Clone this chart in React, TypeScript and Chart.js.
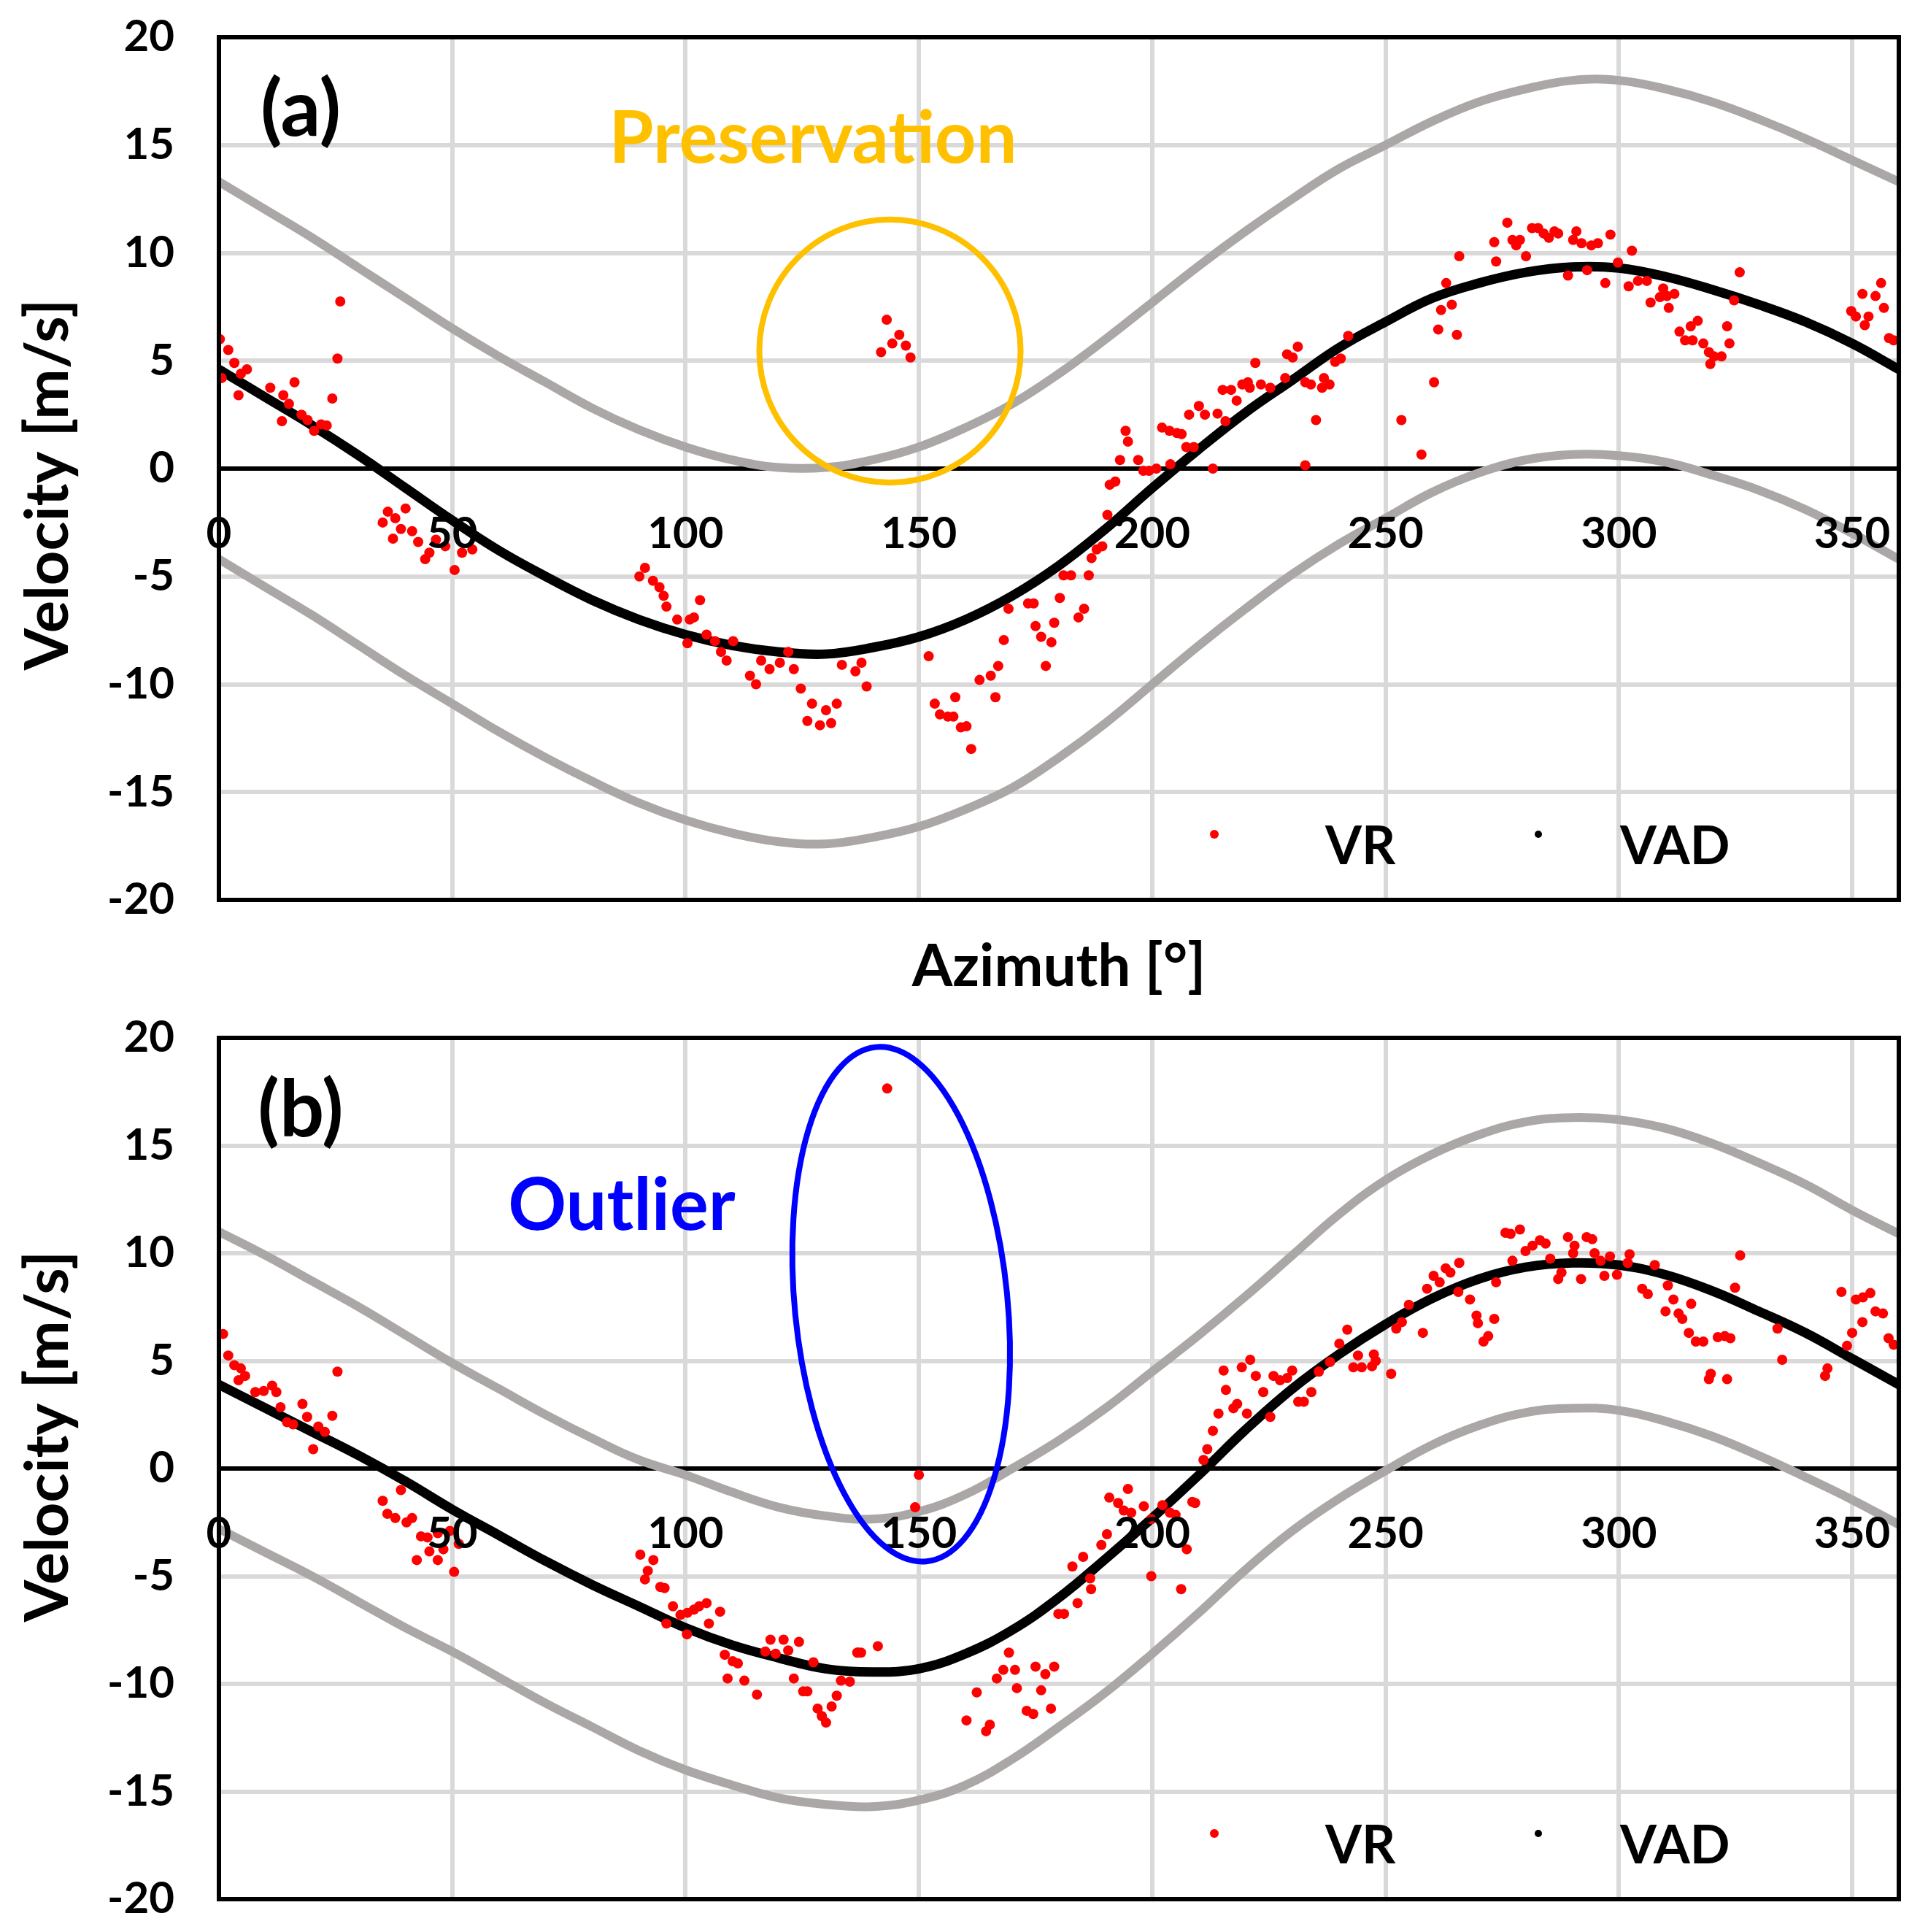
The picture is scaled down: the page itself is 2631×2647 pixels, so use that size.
import { useEffect, useRef } from "react"
import { Chart, registerables, type ChartConfiguration, type Plugin } from "chart.js"

Chart.register(...registerables)

const FONT = "Lato, 'Open Sans', sans-serif"
const RED = "#FF0000"
const GRAY = "#ABA7A7"
const GRID = "#D9D9D9"

// azimuth samples for the fitted curves
const AZIMUTH = [
  0, 10, 20, 30, 40, 50, 60, 70, 80, 90, 100, 110, 120, 130, 140, 150, 160, 170, 180,
  190, 200, 210, 220, 230, 240, 250, 260, 270, 280, 290, 300, 310, 320, 330, 340, 350, 360,
]

const X_TICKS = [0, 50, 100, 150, 200, 250, 300, 350]
const Y_TICKS = [-20, -15, -10, -5, 0, 5, 10, 15, 20]

// ---- panel (a) ----
const VAD_A = [
  4.6, 3.3, 2.0, 0.6, -0.9, -2.4, -3.8, -5.0, -6.1, -7.0, -7.7, -8.2, -8.5, -8.6, -8.3, -7.8, -7.0, -5.9, -4.5,
  -2.8, -0.9, 0.9, 2.6, 4.1, 5.6, 6.8, 7.9, 8.6, 9.1, 9.35, 9.3, 8.9, 8.3, 7.6, 6.8, 5.8, 4.6,
]
const UPPER_A = [
  13.3, 12.0, 10.7, 9.3, 7.9, 6.5, 5.2, 4.0, 2.8, 1.8, 1.0, 0.4, 0.05, 0.05, 0.4, 1.0, 1.9, 3.0, 4.4,
  6.0, 7.7, 9.4, 11.0, 12.5, 13.9, 15.0, 16.1, 17.0, 17.6, 18.0, 18.0, 17.6, 17.0, 16.2, 15.3, 14.3, 13.3,
]
const LOWER_A = [
  -4.2, -5.5, -6.8, -8.2, -9.6, -10.9, -12.2, -13.4, -14.5, -15.5, -16.3, -16.9, -17.3, -17.4, -17.1, -16.6, -15.8, -14.8, -13.4,
  -11.8, -10.0, -8.2, -6.5, -4.9, -3.5, -2.3, -1.1, -0.2, 0.4, 0.65, 0.6, 0.3, -0.3, -1.0, -1.9, -3.0, -4.2,
]
const VR_A: [number, number][] = [
  [0.2, 6.0], [2.0, 5.5], [3.3, 4.9], [6.0, 4.6], [4.7, 4.4], [0.6, 4.2], [4.2, 3.4], [11.0, 3.75], [16.2, 4.0],
  [13.8, 3.4], [15.0, 3.0], [13.5, 2.2], [17.7, 2.5], [19.0, 2.25], [20.4, 1.75], [21.9, 2.05], [23.1, 2.0],
  [24.3, 3.25], [25.4, 5.1], [26.0, 7.75],
  [36.2, -2.0], [40.0, -1.85], [35.1, -2.5], [37.8, -2.3], [39.0, -2.8], [41.4, -2.9], [37.3, -3.25], [42.7, -3.4],
  [45.1, -3.9], [44.2, -4.2], [52.1, -3.9], [54.3, -3.75], [50.5, -4.7], [46.5, -3.3], [48.5, -3.6],
  [91.3, -4.6], [90.1, -5.0], [93.0, -5.2], [94.4, -5.5], [95.3, -5.9], [95.9, -6.4], [103.1, -6.1], [101.8, -6.9],
  [98.2, -7.0], [100.9, -7.0], [100.4, -8.1], [104.5, -7.7], [106.3, -8.0], [110.2, -8.0], [107.6, -8.5], [108.8, -8.9],
  [113.8, -9.6], [115.1, -10.0], [116.2, -8.9], [118.0, -9.3], [120.2, -9.0], [123.2, -9.3], [122.0, -8.5],
  [124.7, -10.2], [127.1, -10.9], [130.1, -11.2], [132.4, -10.9], [126.1, -11.7], [128.8, -11.9], [131.2, -11.8],
  [133.5, -9.1], [136.4, -9.4], [137.7, -9.0], [138.8, -10.1],
  [143.1, 6.9], [145.8, 6.2], [144.3, 5.8], [147.2, 5.7], [141.9, 5.4], [148.2, 5.15],
  [152.1, -8.7], [153.4, -10.9], [154.5, -11.4], [156.2, -11.5], [157.4, -11.5], [157.8, -10.6], [159.0, -12.0],
  [160.2, -11.95], [161.2, -13.0], [163.0, -9.8], [165.4, -9.6], [167.0, -9.15], [166.4, -10.6], [168.2, -7.95],
  [169.2, -6.5], [173.4, -6.25], [174.6, -6.25], [175.0, -7.3], [176.2, -7.8], [178.4, -8.05], [177.2, -9.15],
  [179.0, -7.15], [180.2, -6.0], [181.0, -4.95], [182.6, -4.95], [186.4, -4.95], [185.4, -6.5], [184.2, -6.9],
  [187.0, -4.15], [188.1, -3.75], [189.3, -3.6], [190.4, -2.15],
  [190.9, -0.75], [192.1, -0.6], [193.1, 0.4], [194.3, 1.75], [194.8, 1.25], [197.0, 0.4], [198.1, -0.1],
  [199.3, -0.1], [200.9, 0.0], [202.1, 1.9], [203.7, 1.75], [205.3, 1.65], [206.3, 1.6], [203.9, 0.2], [207.3, 1.0],
  [208.9, 1.0], [207.9, 2.5], [210.0, 2.9], [211.3, 2.5], [213.0, 0.0], [214.0, 2.55], [215.7, 2.2], [215.1, 3.65],
  [216.9, 3.65], [218.1, 3.15], [219.3, 3.9], [220.5, 4.0], [220.9, 3.75], [222.1, 4.9], [223.3, 3.9], [225.3, 3.75],
  [228.5, 4.2], [228.9, 5.3], [230.1, 5.15], [231.2, 5.65], [232.8, 4.0], [234.0, 3.9], [232.8, 0.15], [235.1, 2.25],
  [236.4, 3.75], [236.8, 4.2], [238.0, 3.9], [239.2, 4.95], [240.4, 5.1], [242.0, 6.15], [253.4, 2.25], [257.7, 0.65],
  [260.4, 4.0], [261.3, 6.45], [265.3, 6.2], [261.9, 7.35], [264.2, 7.6], [263.0, 8.6], [265.8, 9.85], [273.7, 9.6],
  [273.3, 10.5], [276.1, 11.4], [277.2, 10.6], [278.0, 10.35], [278.8, 10.6], [280.1, 9.85], [281.4, 11.15],
  [282.7, 11.15], [283.9, 10.9], [285.0, 10.7], [286.2, 11.0], [287.0, 10.9], [289.1, 8.95], [290.9, 11.0],
  [290.2, 10.6], [292.0, 10.45], [294.1, 10.35], [295.5, 10.45], [293.2, 9.2], [298.2, 10.85], [299.8, 9.55],
  [297.1, 8.6], [302.8, 10.1], [302.1, 8.45], [304.1, 8.7], [306.0, 8.7], [309.5, 8.35], [310.3, 8.0], [311.9, 8.1],
  [308.8, 7.95], [306.8, 7.7], [310.7, 7.45], [316.9, 6.85], [315.4, 6.6], [313.0, 6.35], [314.2, 5.95], [315.8, 5.95],
  [318.1, 5.8], [319.3, 5.4], [320.4, 5.2], [322.0, 5.2], [319.6, 4.85], [323.2, 6.6], [323.7, 5.8], [325.9, 9.1],
  [324.7, 7.8], [349.8, 7.3], [350.8, 7.05], [352.2, 8.1], [353.5, 7.05], [352.7, 6.65], [355.0, 8.0], [356.2, 8.6],
  [356.8, 7.45], [357.9, 6.05], [358.9, 5.95],
]

// ---- panel (b) ----
const VAD_B = [
  3.9, 2.8, 1.7, 0.6, -0.6, -1.9, -3.1, -4.3, -5.4, -6.4, -7.4, -8.2, -8.8, -9.3, -9.45, -9.3, -8.6, -7.5, -6.0,
  -4.2, -2.3, -0.3, 1.8, 3.7, 5.3, 6.7, 7.9, 8.8, 9.35, 9.55, 9.45, 9.0, 8.25, 7.3, 6.3, 5.1, 3.9,
]
const UPPER_B = [
  11.0, 9.9, 8.7, 7.5, 6.2, 4.9, 3.7, 2.5, 1.4, 0.4, -0.3, -1.1, -1.8, -2.2, -2.35, -2.0, -1.2, 0.0, 1.3,
  2.8, 4.5, 6.2, 8.0, 9.9, 11.8, 13.4, 14.6, 15.5, 16.1, 16.3, 16.2, 15.8, 15.1, 14.2, 13.2, 12.0, 10.9,
]
const LOWER_B = [
  -2.8, -3.9, -5.0, -6.2, -7.4, -8.5, -9.7, -10.9, -12.0, -13.1, -14.0, -14.7, -15.3, -15.6, -15.7, -15.4, -14.7, -13.5, -12.0,
  -10.4, -8.6, -6.7, -4.7, -2.9, -1.4, -0.1, 1.1, 2.0, 2.6, 2.8, 2.7, 2.2, 1.5, 0.6, -0.4, -1.45, -2.6,
]
const VR_B: [number, number][] = [
  [0.9, 6.25], [2.0, 5.25], [3.3, 4.8], [4.7, 4.65], [5.6, 4.3], [4.2, 4.1], [7.8, 3.55], [9.6, 3.6], [11.4, 3.85],
  [12.3, 3.55], [13.2, 2.85], [14.6, 2.15], [15.9, 2.05], [17.9, 3.0], [18.9, 2.4], [21.3, 1.95], [22.7, 1.7],
  [20.2, 0.9], [24.3, 2.45], [25.4, 4.5],
  [39.0, -1.0], [35.1, -1.5], [36.1, -2.1], [37.8, -2.3], [40.2, -2.5], [41.4, -2.3], [43.3, -3.15], [44.7, -3.2],
  [46.9, -3.0], [49.5, -2.9], [51.4, -3.5], [45.1, -3.85], [48.1, -3.75], [42.4, -4.25], [46.9, -4.25], [50.4, -4.8],
  [90.3, -4.0], [93.1, -4.25], [91.9, -4.75], [91.3, -5.15], [94.6, -5.5], [95.5, -5.55], [97.3, -6.4], [98.9, -6.8],
  [100.4, -6.7], [101.8, -6.55], [102.9, -6.4], [104.5, -6.25], [107.4, -6.65], [105.0, -7.2], [95.9, -7.2],
  [100.3, -7.7], [108.4, -8.65], [110.1, -8.95], [111.2, -9.05], [109.0, -9.75], [112.6, -9.85], [115.3, -10.5],
  [118.2, -7.95], [121.0, -7.95], [124.3, -8.05], [117.1, -8.5], [119.3, -8.6], [122.0, -8.45], [127.4, -9.0],
  [123.2, -9.75], [125.2, -10.35], [126.1, -10.35], [132.4, -10.55], [131.3, -11.05], [128.3, -11.15], [129.2, -11.5],
  [130.1, -11.8], [133.3, -9.85], [135.2, -9.9], [137.0, -8.55], [137.6, -8.55], [141.2, -8.25], [136.8, -8.55],
  [143.2, 17.65], [150.0, -0.3], [149.2, -1.8],
  [162.4, -10.4], [160.2, -11.7], [164.4, -12.2], [165.2, -11.9], [166.7, -9.75], [168.1, -9.35], [170.6, -9.35],
  [169.3, -8.55], [171.0, -10.2], [173.1, -11.25], [174.5, -11.4], [175.0, -9.2], [177.1, -9.55], [179.0, -9.2],
  [176.2, -10.3], [178.3, -11.15], [179.9, -6.75], [181.1, -6.75], [184.0, -6.25], [186.9, -5.6], [186.7, -5.1],
  [182.9, -4.55], [185.2, -4.1], [189.1, -3.55], [190.3, -3.05], [190.8, -1.35], [192.7, -1.6], [194.8, -0.95],
  [193.9, -1.95], [195.5, -2.05], [198.2, -1.75], [199.8, -2.35], [202.2, -1.7], [203.8, -2.05], [205.0, -2.15],
  [199.8, -5.0], [206.2, -5.6], [207.4, -3.75], [208.6, -1.55], [209.2, -1.6],
  [211.0, 0.4], [211.8, 0.9], [213.0, 1.75], [214.2, 2.55], [215.8, 3.65], [215.3, 4.55], [217.4, 2.8], [218.2, 3.0],
  [219.2, 4.7], [221.0, 5.05], [220.3, 2.55], [222.2, 4.3], [223.8, 3.55], [226.0, 4.3], [227.4, 4.1], [228.9, 4.2],
  [230.0, 4.55], [225.3, 2.4], [231.3, 3.1], [232.5, 3.1], [234.1, 3.55], [235.7, 4.5], [238.1, 4.95], [240.1, 5.8],
  [241.8, 6.45], [244.1, 5.25], [243.1, 4.7], [244.9, 4.7], [247.9, 5.0], [247.1, 4.75], [247.5, 5.3],
  [251.2, 4.4], [252.3, 6.5], [253.5, 6.8], [255.0, 7.6], [258.0, 6.3], [258.9, 8.35], [260.3, 8.95], [261.6, 8.65],
  [262.9, 9.3], [263.9, 9.1], [265.8, 9.55], [265.6, 8.2], [268.1, 7.85], [269.5, 7.1], [269.8, 6.75], [273.3, 6.95],
  [272.0, 6.15], [271.0, 5.9], [273.7, 8.65], [277.2, 9.65], [275.7, 10.95], [276.8, 10.9], [278.8, 11.1],
  [280.0, 10.1], [281.5, 10.35], [283.1, 10.6], [284.3, 10.45], [285.3, 9.75], [287.0, 8.8], [287.7, 9.1],
  [289.1, 10.75], [290.5, 10.35], [290.2, 10.0], [291.9, 8.8], [293.1, 10.75], [294.3, 10.65], [294.8, 10.0],
  [296.1, 9.65], [296.9, 8.95], [298.1, 9.85], [299.6, 9.0], [302.3, 9.95], [301.9, 9.55], [307.7, 9.45],
  [305.0, 8.35], [306.2, 8.1], [310.5, 8.5], [311.7, 7.85], [310.0, 7.3], [312.8, 7.2], [313.6, 6.95], [315.5, 7.65],
  [315.0, 6.3], [316.5, 5.9], [318.1, 5.9], [321.2, 6.1], [322.7, 6.15], [323.9, 6.05], [319.7, 4.4], [319.3, 4.15],
  [323.2, 4.15], [326.0, 9.9], [324.9, 8.4], [334.0, 6.5], [335.0, 5.05], [344.2, 4.3], [344.7, 4.65], [347.7, 8.2],
  [348.9, 5.7], [350.0, 6.3], [352.2, 6.8], [350.8, 7.85], [352.3, 7.95], [353.9, 8.15], [355.0, 7.3], [356.6, 7.2],
  [357.8, 6.05], [358.9, 5.75],
]

type Ring = { x: number; y: number; rx: number; ry: number; rot: number; color: string }
type Note = { text: string; color: string; dx: number; dy: number }

type PanelDef = {
  tag: string
  vad: number[]
  upper: number[]
  lower: number[]
  vr: [number, number][]
  note: Note
  ring: Ring
  titleShift: number
  xTitle: boolean
  top: number
  height: number
  padBottom: number
}

// chart area: left 300, right 2602; (a) 51..1233, (b) 1422..2602 in page pixels
const CANVAS_W = 2662
const PAD_TOP = 110
const PAD_RIGHT = 60

const PANELS: PanelDef[] = [
  {
    tag: "(a)",
    vad: VAD_A,
    upper: UPPER_A,
    lower: LOWER_A,
    vr: VR_A,
    note: { text: "Preservation", color: "#FFC000", dx: 814, dy: 140 },
    ring: { x: 143.8, y: 5.45, rx: 28, ry: 6.1, rot: 0, color: "#FFC000" },
    titleShift: 22,
    xTitle: true,
    top: 51 - PAD_TOP,
    height: 1473,
    padBottom: 181,
  },
  {
    tag: "(b)",
    vad: VAD_B,
    upper: UPPER_B,
    lower: LOWER_B,
    vr: VR_B,
    note: { text: "Outlier", color: "#0000FF", dx: 552, dy: 231 },
    ring: { x: 146.2, y: 7.63, rx: 22.8, ry: 12.0, rot: -0.098, color: "#0000FF" },
    titleShift: -44,
    xTitle: false,
    top: 1422 - PAD_TOP,
    height: 1400,
    padBottom: 110,
  },
]

function decorations(p: PanelDef): Plugin<"scatter"> {
  return {
    id: "decorations",
    afterDraw(chart) {
      const { ctx, chartArea: a, scales } = chart
      const xs = scales.x
      const ys = scales.y
      ctx.save()

      // plot frame
      ctx.strokeStyle = "#000"
      ctx.lineWidth = 6
      ctx.strokeRect(a.left, a.top, a.right - a.left, a.bottom - a.top)

      // highlight ring
      const cx = xs.getPixelForValue(p.ring.x)
      const cy = ys.getPixelForValue(p.ring.y)
      const rx = Math.abs(xs.getPixelForValue(p.ring.x + p.ring.rx) - cx)
      const ry = Math.abs(ys.getPixelForValue(p.ring.y + p.ring.ry) - cy)
      ctx.beginPath()
      ctx.ellipse(cx, cy, rx, ry, p.ring.rot, 0, Math.PI * 2)
      ctx.strokeStyle = p.ring.color
      ctx.lineWidth = 8
      ctx.stroke()

      ctx.textBaseline = "middle"

      // panel tag and note
      ctx.fillStyle = "#000"
      ctx.textAlign = "center"
      ctx.font = `bold 108px ${FONT}`
      ctx.fillText(p.tag, a.left + 112, a.top + 100)

      ctx.fillStyle = p.note.color
      ctx.font = `bold 99px ${FONT}`
      ctx.fillText(p.note.text, a.left + p.note.dx, a.top + p.note.dy)

      // legend
      ctx.fillStyle = RED
      ctx.beginPath()
      ctx.arc(a.left + 1364, a.bottom - 90, 6, 0, Math.PI * 2)
      ctx.fill()
      ctx.fillStyle = "#000"
      ctx.beginPath()
      ctx.arc(a.left + 1808, a.bottom - 90, 5, 0, Math.PI * 2)
      ctx.fill()
      ctx.font = `bold 72px ${FONT}`
      ctx.textAlign = "left"
      ctx.fillText("VR", a.left + 1516, a.bottom - 72)
      ctx.fillText("VAD", a.left + 1920, a.bottom - 72)

      // axis titles
      ctx.textAlign = "center"
      ctx.font = `bold 80px ${FONT}`
      if (p.xTitle) {
        ctx.fillText("Azimuth [°]", (a.left + a.right) / 2, a.bottom + 92)
      }
      ctx.font = `bold 83px ${FONT}`
      ctx.translate(66, (a.top + a.bottom) / 2 + p.titleShift)
      ctx.rotate(-Math.PI / 2)
      ctx.fillText("Velocity [m/s]", 0, 0)

      ctx.restore()
    },
  }
}

function buildConfig(p: PanelDef): ChartConfiguration<"scatter"> {
  const curve = (vals: number[]) => AZIMUTH.map((az, i) => ({ x: az, y: vals[i] }))
  const tickFont = { family: FONT, size: 60, weight: "bold" as const }
  return {
    type: "scatter",
    data: {
      datasets: [
        {
          label: "VR",
          data: p.vr.map(([x, y]) => ({ x, y })),
          pointRadius: 7,
          pointBackgroundColor: RED,
          pointBorderWidth: 0,
          showLine: false,
        },
        {
          label: "VAD",
          data: curve(p.vad),
          showLine: true,
          borderColor: "#000",
          borderWidth: 13,
          pointRadius: 0,
          tension: 0.4,
        },
        {
          label: "upper",
          data: curve(p.upper),
          showLine: true,
          borderColor: GRAY,
          borderWidth: 12,
          pointRadius: 0,
          tension: 0.4,
        },
        {
          label: "lower",
          data: curve(p.lower),
          showLine: true,
          borderColor: GRAY,
          borderWidth: 12,
          pointRadius: 0,
          tension: 0.4,
        },
      ],
    },
    options: {
      responsive: false,
      animation: false,
      devicePixelRatio: 1,
      events: [],
      layout: { padding: { top: PAD_TOP, bottom: p.padBottom, left: 0, right: PAD_RIGHT } },
      plugins: { legend: { display: false }, tooltip: { enabled: false } },
      scales: {
        x: {
          type: "linear",
          min: 0,
          max: 360,
          position: { y: 0 },
          afterBuildTicks: (s) => {
            s.ticks = X_TICKS.map((v) => ({ value: v }))
          },
          grid: { color: GRID, lineWidth: 6, drawTicks: false },
          border: { display: true, color: "#000", width: 6 },
          ticks: { padding: 54, z: 1, color: "#000", font: tickFont, maxRotation: 0, autoSkip: false },
        },
        y: {
          type: "linear",
          min: -20,
          max: 20,
          position: "left",
          afterBuildTicks: (s) => {
            s.ticks = Y_TICKS.map((v) => ({ value: v }))
          },
          afterFit: (s) => {
            s.width = 300
          },
          grid: { color: GRID, lineWidth: 6, drawTicks: false },
          border: { display: false },
          ticks: { padding: 61, color: "#000", font: tickFont },
        },
      },
    },
    plugins: [decorations(p)],
  }
}

function PanelChart({ panel }: { panel: PanelDef }) {
  const canvasRef = useRef<HTMLCanvasElement>(null)

  useEffect(() => {
    if (!canvasRef.current) return
    const chart = new Chart(canvasRef.current, buildConfig(panel))
    return () => chart.destroy()
  }, [panel])

  return (
    <canvas
      ref={canvasRef}
      width={CANVAS_W}
      height={panel.height}
      style={{ position: "absolute", left: 0, top: panel.top, width: CANVAS_W, height: panel.height }}
    />
  )
}

export default function App() {
  return (
    <div
      style={{
        position: "absolute",
        left: 0,
        top: 0,
        width: 2631,
        height: 2647,
        overflow: "hidden",
        background: "#fff",
      }}
    >
      {PANELS.map((p) => (
        <PanelChart key={p.tag} panel={p} />
      ))}
    </div>
  )
}
